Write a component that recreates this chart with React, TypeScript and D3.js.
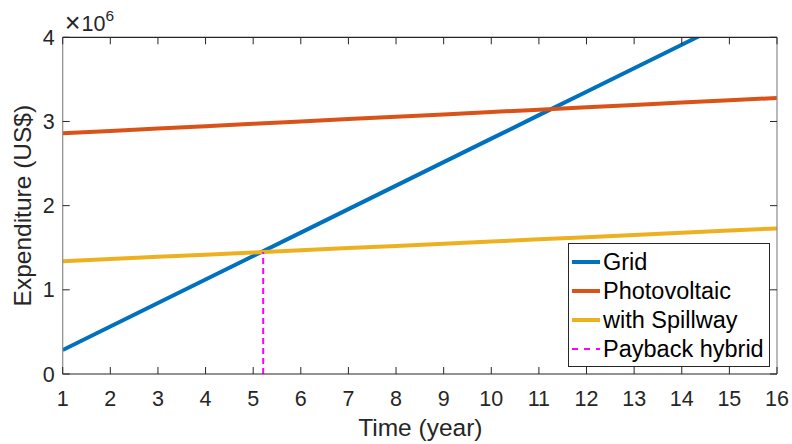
import React from "react";
import * as d3 from "d3";

// Cumulative expenditure per year (US$)
const years = [1, 2, 3, 4, 5, 6, 7, 8, 9, 10, 11, 12, 13, 14, 15, 16];
const gridCost = [
  285000, 564000, 843000, 1122000, 1401000, 1680000, 1959000, 2238000,
  2517000, 2796000, 3075000, 3354000, 3633000, 3912000, 4191000, 4470000,
];
const pvCost = [
  2860000, 2888000, 2916000, 2944000, 2972000, 3000000, 3028000, 3056000,
  3084000, 3112000, 3140000, 3168000, 3196000, 3224000, 3252000, 3280000,
];
const spillwayCost = [
  1340000, 1366000, 1392000, 1418000, 1444000, 1470000, 1496000, 1522000,
  1548000, 1574000, 1600000, 1626000, 1652000, 1678000, 1704000, 1730000,
];
const paybackYear = 5.21;
const paybackValue = 1450000;

const xTicks = [1, 2, 3, 4, 5, 6, 7, 8, 9, 10, 11, 12, 13, 14, 15, 16];
const yTicks = [0, 1, 2, 3, 4];
const seriesNames = ["Grid", "Photovoltaic", "with Spillway", "Payback hybrid"];
const seriesColors = ["#0072BD", "#D95319", "#EDB120", "#FF00FF"];

const W = 792;
const H = 444;
const L = 62.7;
const R = 777;
const T = 37.3;
const B = 374;
const FONT = "'Liberation Sans', Arial, sans-serif";
const TEXT = "#262626";

export default function App() {
  const x = d3.scaleLinear().domain([1, 16]).range([L, R]);
  const y = d3.scaleLinear().domain([0, 4e6]).range([B, T]);
  const line = d3
    .line<[number, number]>()
    .x((d) => x(d[0]))
    .y((d) => y(d[1]));
  const series = [gridCost, pvCost, spillwayCost];
  const tick = 7;

  return (
    <svg
      width={W}
      height={H}
      style={{ position: "absolute", left: 0, top: 0, background: "#fff" }}
    >
      <defs>
        <clipPath id="plot">
          <rect x={L} y={T} width={R - L} height={B - T} />
        </clipPath>
      </defs>
      <rect width={W} height={H} fill="#fff" />

      <g clipPath="url(#plot)">
        {series.map((vals, i) => (
          <path
            key={i}
            d={line(years.map((t, k) => [t, vals[k]]) as [number, number][]) || ""}
            fill="none"
            stroke={seriesColors[i]}
            strokeWidth={4}
          />
        ))}
        <line
          x1={x(paybackYear)}
          x2={x(paybackYear)}
          y1={y(0)}
          y2={y(paybackValue)}
          stroke={seriesColors[3]}
          strokeWidth={2}
          strokeDasharray="6,4"
        />
      </g>

      {/* axes box */}
      <line x1={L} x2={R} y1={B} y2={B} stroke={TEXT} strokeWidth={1.2} />
      <line x1={L} x2={R} y1={T} y2={T} stroke={TEXT} strokeWidth={1.2} />
      <line x1={L} x2={L} y1={T} y2={B} stroke="#8a8a8a" strokeWidth={1.2} />
      <line x1={R} x2={R} y1={T} y2={B} stroke="#8a8a8a" strokeWidth={1.2} />

      {xTicks.map((v) => (
        <g key={"x" + v}>
          <line x1={x(v)} x2={x(v)} y1={B} y2={B - tick} stroke={TEXT} strokeWidth={1} />
          <line x1={x(v)} x2={x(v)} y1={T} y2={T + tick} stroke={TEXT} strokeWidth={1} />
          <text
            x={x(v)}
            y={B + 31.5}
            textAnchor="middle"
            fontFamily={FONT}
            fontSize={21.5}
            fill={TEXT}
          >
            {v}
          </text>
        </g>
      ))}
      {yTicks.map((v) => (
        <g key={"y" + v}>
          <line x1={L} x2={L + tick} y1={y(v * 1e6)} y2={y(v * 1e6)} stroke={TEXT} strokeWidth={1} />
          <line x1={R} x2={R - tick} y1={y(v * 1e6)} y2={y(v * 1e6)} stroke={TEXT} strokeWidth={1} />
          <text
            x={L - 8}
            y={y(v * 1e6) + 7.6}
            textAnchor="end"
            fontFamily={FONT}
            fontSize={21.5}
            fill={TEXT}
          >
            {v}
          </text>
        </g>
      ))}

      {/* exponent */}
      <text x={L + 2} y={31} fontFamily={FONT} fontSize={21.5} fill={TEXT}>
        <tspan fontSize={27} dy={1}>×</tspan>
        <tspan dy={-1} dx={1}>10</tspan>
        <tspan dy={-10} fontSize={15.5}>
          6
        </tspan>
      </text>

      <text
        x={(L + R) / 2 + 0.5}
        y={436}
        textAnchor="middle"
        fontFamily={FONT}
        fontSize={24.5}
        fill={TEXT}
      >
        Time (year)
      </text>
      <text
        transform={`translate(31,${(T + B) / 2}) rotate(-90)`}
        textAnchor="middle"
        fontFamily={FONT}
        fontSize={24.5}
        fill={TEXT}
      >
        Expenditure (US$)
      </text>

      {/* legend */}
      <g>
        <rect x={568.5} y={243.5} width={201} height={123} fill="#fff" stroke={TEXT} strokeWidth={1} />
        {seriesNames.map((name, i) => {
          const yy = 262 + i * 29;
          return (
            <g key={name}>
              <line
                x1={572}
                x2={600}
                y1={yy}
                y2={yy}
                stroke={seriesColors[i]}
                strokeWidth={i < 3 ? 4 : 2}
                strokeDasharray={i < 3 ? undefined : "6,6"}
              />
              <text x={603} y={yy + 8} fontFamily={FONT} fontSize={23.5} fill="#000">
                {name}
              </text>
            </g>
          );
        })}
      </g>
    </svg>
  );
}
